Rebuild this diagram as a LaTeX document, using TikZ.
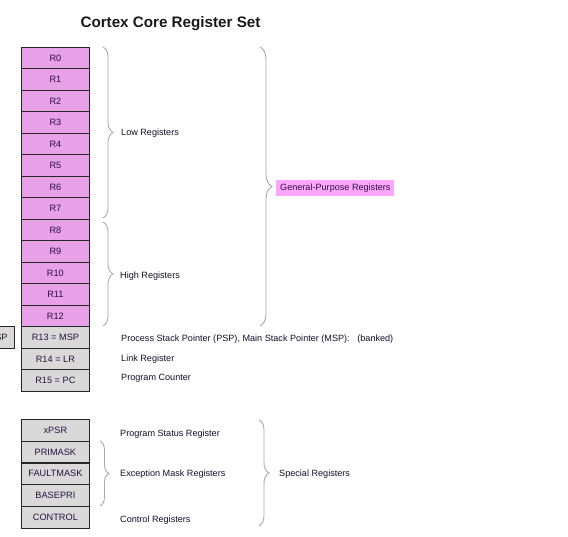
\documentclass[tikz,border=0pt]{standalone}
\usepackage{fontspec}
\setmainfont{Liberation Sans}
\usetikzlibrary{decorations.pathreplacing}
\definecolor{regpink}{HTML}{E8A0E6}
\definecolor{reggray}{HTML}{D9D9D9}
\definecolor{lblpink}{HTML}{FFA6FF}
\definecolor{regtext}{HTML}{2A1040}
\definecolor{lbltext}{HTML}{101028}
\definecolor{brcgray}{HTML}{A8A8A8}
\begin{document}
\begin{tikzpicture}[x=1pt,y=-1pt,
  reg/.style={draw=black!85, line width=0.8pt, minimum width=68pt, minimum height=21.5pt,
    inner sep=0pt, anchor=north west, text=regtext, font=\fontsize{9.2}{10}\selectfont},
  pinkreg/.style={reg, fill=regpink},
  grayreg/.style={reg, fill=reggray},
  lbl/.style={anchor=west, inner sep=0pt, text=lbltext, font=\fontsize{9.1}{10}\selectfont},
  brc/.style={draw=brcgray, line width=0.9pt, decorate, decoration={brace, amplitude=#1}}]
\useasboundingbox (0,0) rectangle (568,537);
\node[font=\bfseries\fontsize{15.2}{17}\selectfont, text=black!90] (title) at (170.5,23.5) {Cortex Core Register Set};
% general purpose registers
\foreach \i in {0,...,12} {
  \node[pinkreg] (r\i) at (21,{47+21.5*\i}) {R\i};
}
\node[grayreg] (r13) at (21,{47+21.5*13}) {R13 = MSP};
\node[grayreg] (r14) at (21,{47+21.5*14}) {R14 = LR};
\node[grayreg] (r15) at (21,{47+21.5*15}) {R15 = PC};
\node[reg, fill=reggray, anchor=north east, text width=54pt, align=right, inner xsep=7pt] (psp) at (15,{47+21.5*13}) {R13 = PSP};
% special registers
\node[grayreg] (xpsr) at (21,419) {xPSR};
\node[grayreg] (primask) at (21,440.8) {PRIMASK};
\node[grayreg] (faultmask) at (21,462.6) {FAULTMASK};
\node[grayreg] (basepri) at (21,484.4) {BASEPRI};
\node[grayreg] (control) at (21,506.2) {CONTROL};
% brace end points
\coordinate (lowA) at (103,47);
\coordinate (lowB) at (103,218);
\coordinate (highA) at (103,222);
\coordinate (highB) at (103,326);
\coordinate (genA) at (260,47);
\coordinate (genB) at (260,326);
\coordinate (excA) at (100,441);
\coordinate (excB) at (100,506);
\coordinate (spcA) at (259,420);
\coordinate (spcB) at (259,526);
\draw[brc=10pt] (lowA) -- (lowB);
\draw[brc=10pt] (highA) -- (highB);
\draw[brc=12pt] (genA) -- (genB);
\draw[brc=9pt] (excA) -- (excB);
\draw[brc=10pt] (spcA) -- (spcB);
% labels
\node[lbl] (lowl) at (121,133.5) {Low Registers};
\node[lbl] (highl) at (120,276.5) {High Registers};
\node[lbl, fill=lblpink, text=regtext, inner xsep=4pt, inner ysep=0pt, minimum height=16pt] (genl) at (276,188) {General-Purpose Registers};
\node[lbl] (mspl) at (121,339) {Process Stack Pointer (PSP), Main Stack Pointer (MSP):\ \ \ (banked)};
\node[lbl] (lrl) at (121,359.5) {Link Register};
\node[lbl] (pcl) at (121,378) {Program Counter};
\node[lbl] (xpsrl) at (120,434) {Program Status Register};
\node[lbl] (excl) at (120,474) {Exception Mask Registers};
\node[lbl] (ctrll) at (120,520) {Control Registers};
\node[lbl] (spcl) at (279,474) {Special Registers};
\end{tikzpicture}
\end{document}
